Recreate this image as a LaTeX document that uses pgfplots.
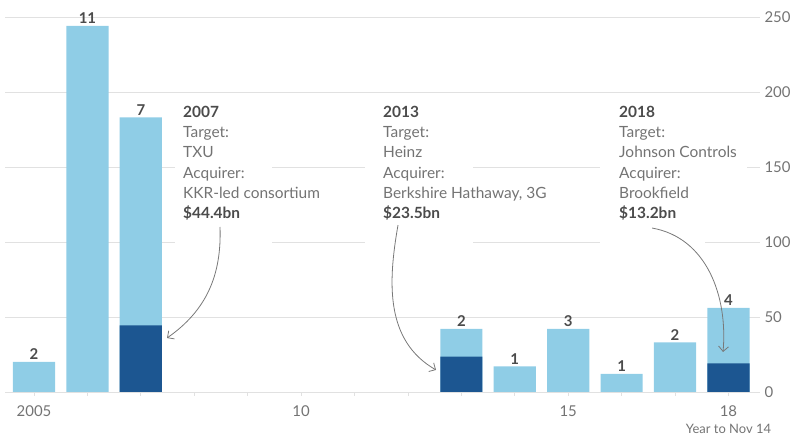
\documentclass[border=0pt]{standalone}
\usepackage{pgfplots}
\pgfplotsset{compat=1.18}
\usepackage{fontspec}
\setmainfont{Lato}
\usetikzlibrary{arrows.meta}

\definecolor{lightbar}{RGB}{143,205,230}
\definecolor{darkbar}{RGB}{28,86,145}
\definecolor{txt}{RGB}{115,115,115}
\definecolor{txtdark}{RGB}{75,75,75}
\definecolor{gridc}{RGB}{225,225,225}
\definecolor{arr}{RGB}{120,120,120}

\newcommand{\annfont}{\fontsize{15.5}{20.3}\selectfont}

\begin{document}
\begin{tikzpicture}
\begin{axis}[
    at={(0,0)}, anchor=south west,
    scale only axis,
    width=755bp, height=375bp,
    xmin=2004.457, xmax=2018.59,
    ymin=0, ymax=250,
    clip=false,
    axis line style={draw=none},
    ytick={0,50,100,150,200,250},
    ytick pos=right,
    yticklabel pos=right,
    ytick style={draw=none},
    ymajorgrids,
    grid style={gridc, line width=0.8pt},
    xtick={2005,...,2018},
    xticklabels={2005,,,,,10,,,,,15,,,18},
    xtick pos=bottom,
    tick align=outside,
    major tick length=4bp,
    xtick style={draw=gridc, line width=0.8pt},
    /pgf/number format/assume math mode=true,
    ticklabel style={font=\fontsize{15}{18}\selectfont, text=txt},
    yticklabel style={anchor=west, xshift=-3bp},
    xticklabel style={yshift=-6bp},
]
% white gaps in the grid behind the notes
\fill[white] (axis cs:2007.64,146) rectangle (axis cs:2009.455,154);
\fill[white] (axis cs:2011.196,146) rectangle (axis cs:2013.218,154);
\fill[white] (axis cs:2015.595,146) rectangle (axis cs:2018.347,154);
\fill[white] (axis cs:2007.64,96) rectangle (axis cs:2009.455,104);
\fill[white] (axis cs:2011.196,96) rectangle (axis cs:2013.218,104);
\fill[white] (axis cs:2015.595,96) rectangle (axis cs:2017.56,104);

% all deals
\addplot[ybar, bar shift=0pt, bar width=0.79, fill=lightbar, draw=none,
    nodes near coords, point meta=explicit symbolic,
    every node near coord/.append style={anchor=south, inner sep=1bp, yshift=1bp,
        font=\fontsize{15}{18}\selectfont\bfseries, text=txtdark}]
    table[meta=n] {
x    y   n
2005 20  2
2006 244 11
2007 183 7
2013 42  2
2014 17  1
2015 42  3
2016 12  1
2017 33  2
2018 56  4
};
% largest deal of the year
\addplot[ybar, bar shift=0pt, bar width=0.79, fill=darkbar, draw=none]
    coordinates {(2007,44.4) (2013,23.5) (2018,19)};

% notes
\node[anchor=north west, inner sep=0, align=left, text=txt, font=\annfont]
    at (axis cs:2007.789,190.7)
    {\textcolor{txtdark}{\bfseries 2007}\\Target:\\TXU\\Acquirer:\\KKR-led consortium\\\textcolor{txtdark}{\bfseries \$44.4bn}};
\node[anchor=north west, inner sep=0, align=left, text=txt, font=\annfont]
    at (axis cs:2011.533,190.7)
    {\textcolor{txtdark}{\bfseries 2013}\\Target:\\Heinz\\Acquirer:\\Berkshire Hathaway, 3G\\\textcolor{txtdark}{\bfseries \$23.5bn}};
\node[anchor=north west, inner sep=0, align=left, text=txt, font=\annfont]
    at (axis cs:2015.951,190.7)
    {\textcolor{txtdark}{\bfseries 2018}\\Target:\\Johnson Controls\\Acquirer:\\Brookfield\\\textcolor{txtdark}{\bfseries \$13.2bn}};

\draw[arr, line width=0.8pt, -{Straight Barb[length=5bp]}]
    (axis cs:2008.482,110) to[out=-88, in=35] (axis cs:2007.49,36);
\draw[arr, line width=0.8pt, -{Straight Barb[length=5bp]}]
    (axis cs:2011.814,111.3) to[out=-100, in=150] (axis cs:2012.525,14.7);
\draw[arr, line width=0.8pt, -{Straight Barb[length=5bp]}]
    (axis cs:2016.57,109.3) to[out=-10, in=85] (axis cs:2017.898,26.7);

\node[text=txt, font=\fontsize{13}{15}\selectfont] at (axis cs:2018,0) [yshift=-37bp] {Year to Nov 14};
\end{axis}
\pgfresetboundingbox
\path (-5bp,-45bp) rectangle (787bp,392bp);
\end{tikzpicture}
\end{document}
